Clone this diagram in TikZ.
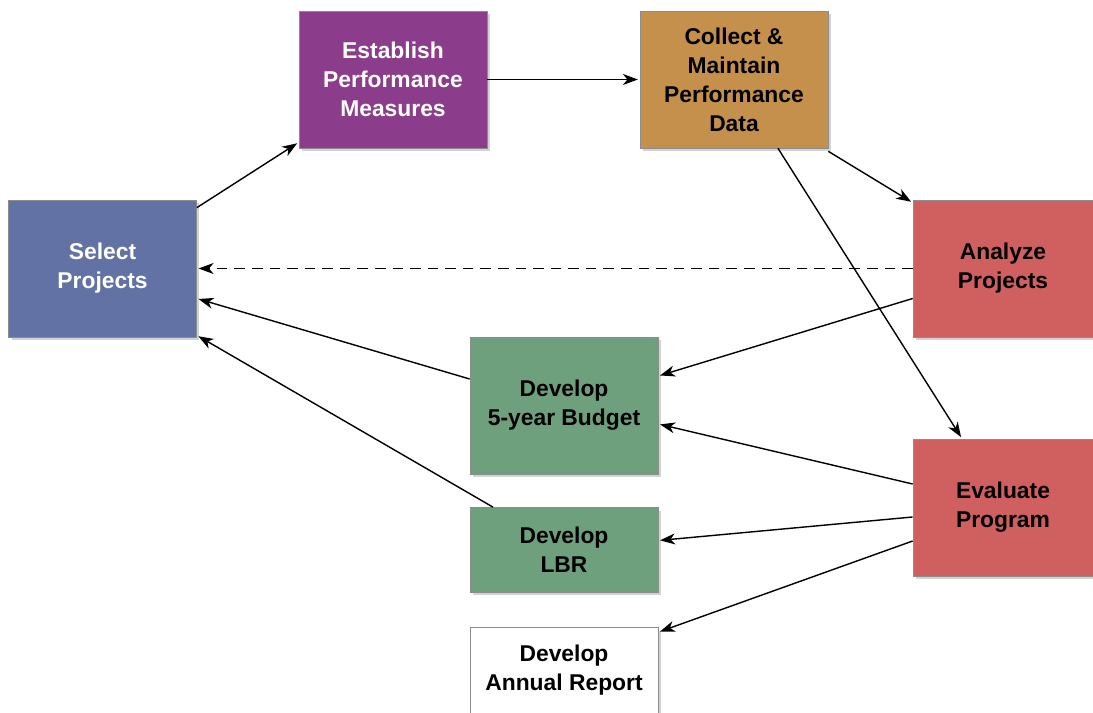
\documentclass[tikz,border=0pt]{standalone}
\usepackage{fontspec}
\setmainfont{Liberation Sans}
\usetikzlibrary{arrows.meta,shadows}

\definecolor{selblue}{RGB}{98,114,164}
\definecolor{estpurple}{RGB}{139,61,139}
\definecolor{colbrown}{RGB}{196,144,76}
\definecolor{anared}{RGB}{208,96,96}
\definecolor{devgreen}{RGB}{111,160,126}

\tikzset{
    stagebox/.style={rectangle, draw=black!45, thin, inner sep=0pt, align=center,
        minimum width=3.76cm, minimum height=2.74cm,
        font=\fontsize{13}{16.5}\selectfont\bfseries,
        drop shadow={shadow xshift=0.06cm, shadow yshift=-0.06cm, opacity=0.35}},
    flow/.style={-{Stealth[length=0.3cm, width=0.22cm, inset=0.09cm]}, line width=0.8pt, shorten >=1pt},
}

\begin{document}
\begin{tikzpicture}[x=0.02cm, y=-0.02cm]
    \useasboundingbox (0,0) rectangle (1093,713);

    \node(select) [stagebox, fill=selblue, text=white] at (102.5,268.5) {Select\\Projects};
    \node(establish) [stagebox, fill=estpurple, text=white] at (393,79.5) {Establish\\Performance\\Measures};
    \node(collect) [stagebox, fill=colbrown] at (734,79.5) {Collect \&\\Maintain\\Performance\\Data};
    \node(analyze) [stagebox, fill=anared, minimum width=3.6cm] at (1003,268.5) {Analyze\\Projects};
    \node(evaluate) [stagebox, fill=anared, minimum width=3.6cm] at (1003,507.5) {Evaluate\\Program};
    \node(budget) [stagebox, fill=devgreen] at (564,405.5) {Develop\\5-year Budget};
    \node(lbr) [stagebox, fill=devgreen, minimum height=1.7cm] at (564,550) {Develop\\LBR};
    \node(annual) [stagebox, fill=white, minimum height=1.72cm] at (564,670.5) {Develop\\Annual Report};

    \draw[flow] ([yshift=-0.16cm]select.north east) -- ([yshift=0.12cm]establish.south west);
    \draw[flow] (establish.east) -- (collect.west);
    \draw[flow] ([yshift=-0.06cm]collect.south east) -- ([yshift=-0.06cm]analyze.north west);
    \draw[flow] ([xshift=0.88cm]collect.south) -- ([xshift=-0.82cm]evaluate.north);
    \draw[flow, dash pattern=on 6pt off 4pt] (analyze.west) -- (select.east);
    \draw[flow] ([yshift=-0.6cm]analyze.west) -- ([yshift=0.59cm]budget.east);
    \draw[flow] ([yshift=0.53cm]budget.west) -- ([yshift=-0.6cm]select.east);
    \draw[flow] ([xshift=-1.42cm]lbr.north) -- ([yshift=0.04cm]select.south east);
    \draw[flow] ([yshift=0.47cm]evaluate.west) -- ([yshift=-0.37cm]budget.east);
    \draw[flow] ([yshift=-0.19cm]evaluate.west) -- ([yshift=0.19cm]lbr.east);
    \draw[flow] ([yshift=-0.67cm]evaluate.west) -- ([yshift=-0.1cm]annual.north east);
\end{tikzpicture}
\end{document}
